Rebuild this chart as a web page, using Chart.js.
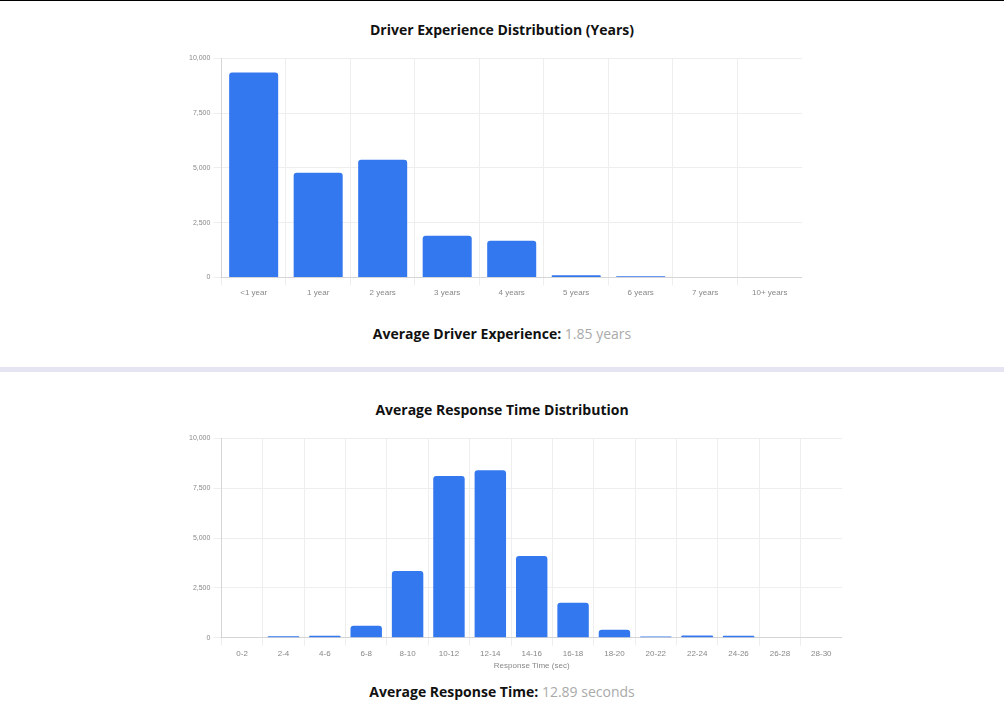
<!DOCTYPE html>
<html><head><meta charset="utf-8">
<script src="https://cdn.jsdelivr.net/npm/chart.js@4"></script>
<style>
body{margin:0;width:1004px;height:720px;font-family:"Open Sans",sans-serif;background:#fff;border-top:1px solid #000;box-sizing:border-box;position:relative;overflow:hidden}
.t{position:absolute;left:0;width:1004px;text-align:center;font-weight:bold;font-size:14px;color:#111}
.v{font-weight:normal;color:#aaa}
#sep{position:absolute;left:0;top:366px;width:1004px;height:5px;background:#e4e4f2}
</style></head><body>
<div class="t" style="top:19px">Driver Experience Distribution (Years)</div>
<div style="position:absolute;left:186px;top:50px;width:616px;height:250px"><canvas id="c1"></canvas></div>
<div class="t" style="top:323px">Average Driver Experience: <span class="v">1.85 years</span></div>
<div id="sep"></div>
<div class="t" style="top:399px">Average Response Time Distribution</div>
<div style="position:absolute;left:186px;top:430px;width:656px;height:240px"><canvas id="c2"></canvas></div>
<div class="t" style="top:681px">Average Response Time: <span class="v">12.89 seconds</span></div>
<script>
const expLabels=["<1 year","1 year","2 years","3 years","4 years","5 years","6 years","7 years","10+ years"];
const expCounts=[9350,4770,5370,1900,1670,100,50,0,0];
const rtLabels=["0-2","2-4","4-6","6-8","8-10","10-12","12-14","14-16","16-18","18-20","20-22","22-24","24-26","26-28","28-30"];
const rtCounts=[0,80,100,600,3350,8100,8400,4100,1750,400,60,120,100,0,0];
const yTicks=[0,2500,5000,7500,10000];
function mk(id,labels,data,xTitle){
 new Chart(document.getElementById(id),{type:'bar',
  data:{labels,datasets:[{data,backgroundColor:'#3478f0',borderRadius:3,categoryPercentage:0.8,barPercentage:0.95}]},
  options:{responsive:true,maintainAspectRatio:false,animation:false,
   plugins:{legend:{display:false},tooltip:{enabled:false}},
   scales:{x:{grid:{color:'#eee'},ticks:{font:{size:8},color:'#888'},title:{display:!!xTitle,text:xTitle,font:{size:8},color:'#888',padding:0}},
    y:{min:0,max:10000,afterBuildTicks:a=>{a.ticks=yTicks.map(v=>({value:v}))},grid:{color:'#eee'},ticks:{font:{size:7},color:'#888'}}}}});
}
mk('c1',expLabels,expCounts,'');
mk('c2',rtLabels,rtCounts,'Response Time (sec)');
</script></body></html>
